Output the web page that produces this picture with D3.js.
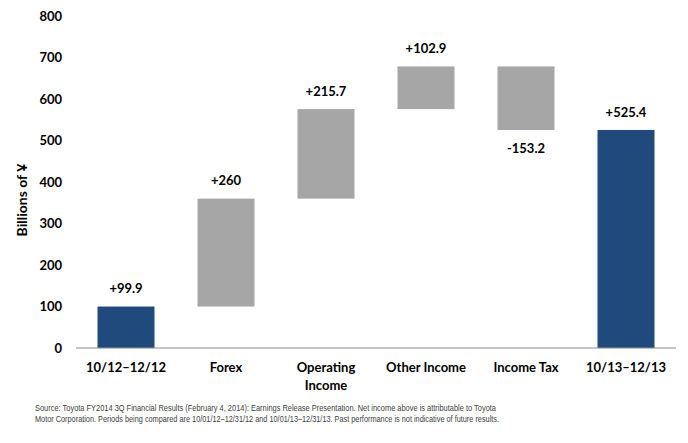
<!DOCTYPE html>
<html>
<head>
<meta charset="utf-8">
<script src="https://cdn.jsdelivr.net/npm/d3@7"></script>
<style>
  body { margin: 0; background: #fff; }
  svg { display: block; }
</style>
</head>
<body>
<svg width="688" height="443"></svg>
<script>
// данные водопада
const categories = ["10/12–12/12", "Forex", "Operating Income", "Other Income", "Income Tax", "10/13–12/13"];
const changes = [99.9, 260, 215.7, 102.9, -153.2, 525.4];
const labels = ["+99.9", "+260", "+215.7", "+102.9", "-153.2", "+525.4"];
const isTotal = [true, false, false, false, false, true];
const yTicks = [0, 100, 200, 300, 400, 500, 600, 700, 800];

const svg = d3.select("svg");
const font = "Lato, 'Open Sans', sans-serif";

// считаем начало и конец каждого столбика
let running = 0;
const bars = categories.map((c, i) => {
    let y0, y1;
    if (isTotal[i]) { y0 = 0; y1 = changes[i]; running = changes[i]; }
    else { y0 = running; y1 = running + changes[i]; running = y1; }
    return { cat: c, y0: y0, y1: y1, v: changes[i], label: labels[i], total: isTotal[i] };
});

const x = d3.scaleBand().domain(categories).range([76, 676]).paddingInner(0.43).paddingOuter(0.215);
const y = d3.scaleLinear().domain([0, 800]).range([348, 16]);

// ось Y (только подписи)
svg.append("g")
    .selectAll("text")
    .data(yTicks)
    .enter()
    .append("text")
    .attr("x", 62)
    .attr("y", d => y(d))
    .attr("dy", "0.35em")
    .attr("text-anchor", "end")
    .style("font", "bold 13px " + font)
    .style("fill", "#000")
    .text(d => d);

svg.append("text")
    .attr("transform", "translate(22,200) rotate(-90)")
    .attr("text-anchor", "middle")
    .attr("dy", "0.35em")
    .style("font", "bold 14px " + font)
    .text("Billions of ¥");

// столбики
svg.selectAll(".bar")
    .data(bars)
    .enter()
    .append("rect")
    .attr("x", d => x(d.cat))
    .attr("width", x.bandwidth())
    .attr("y", d => y(Math.max(d.y0, d.y1)))
    .attr("height", d => Math.abs(y(d.y0) - y(d.y1)))
    .style("fill", d => d.total ? "#204a7c" : "#a6a6a6");

// подписи значений
svg.selectAll(".val")
    .data(bars)
    .enter()
    .append("text")
    .attr("x", d => x(d.cat) + x.bandwidth() / 2)
    .attr("y", d => d.v < 0 ? y(Math.min(d.y0, d.y1)) + 18 : y(Math.max(d.y0, d.y1)) - 18)
    .attr("dy", "0.35em")
    .attr("text-anchor", "middle")
    .style("font", "bold 13px " + font)
    .text(d => d.label);

// ось X
svg.append("line")
    .attr("x1", 76).attr("x2", 676)
    .attr("y1", y(0)).attr("y2", y(0))
    .style("stroke", "#8c8c8c")
    .style("stroke-width", 1.2);

svg.append("g")
    .selectAll("text")
    .data(categories)
    .enter()
    .append("text")
    .attr("x", d => x(d) + x.bandwidth() / 2)
    .attr("y", 367)
    .attr("text-anchor", "middle")
    .style("font", "bold 13px " + font)
    .each(function (d) {
        const parts = d === "Operating Income" ? ["Operating", "Income"] : [d];
        const t = d3.select(this);
        parts.forEach((p, k) => {
            t.append("tspan").attr("x", x(d) + x.bandwidth() / 2).attr("dy", k === 0 ? "0.35em" : "18px").text(p);
        });
    });

// источник
const note = [
    "Source: Toyota FY2014 3Q Financial Results (February 4, 2014): Earnings Release Presentation. Net income above is attributable to Toyota",
    "Motor Corporation. Periods being compared are 10/01/12–12/31/12 and 10/01/13–12/31/13. Past performance is not indicative of future results."
];
const noteLen = [461, 464];
svg.append("g")
    .selectAll("text")
    .data(note)
    .enter()
    .append("text")
    .attr("x", 35)
    .attr("y", (d, i) => 411 + i * 11)
    .attr("textLength", (d, i) => noteLen[i])
    .attr("lengthAdjust", "spacingAndGlyphs")
    .style("font", "9.5px 'Liberation Sans', Arial, sans-serif")
    .style("fill", "#404040")
    .text(d => d);
</script>
</body>
</html>
